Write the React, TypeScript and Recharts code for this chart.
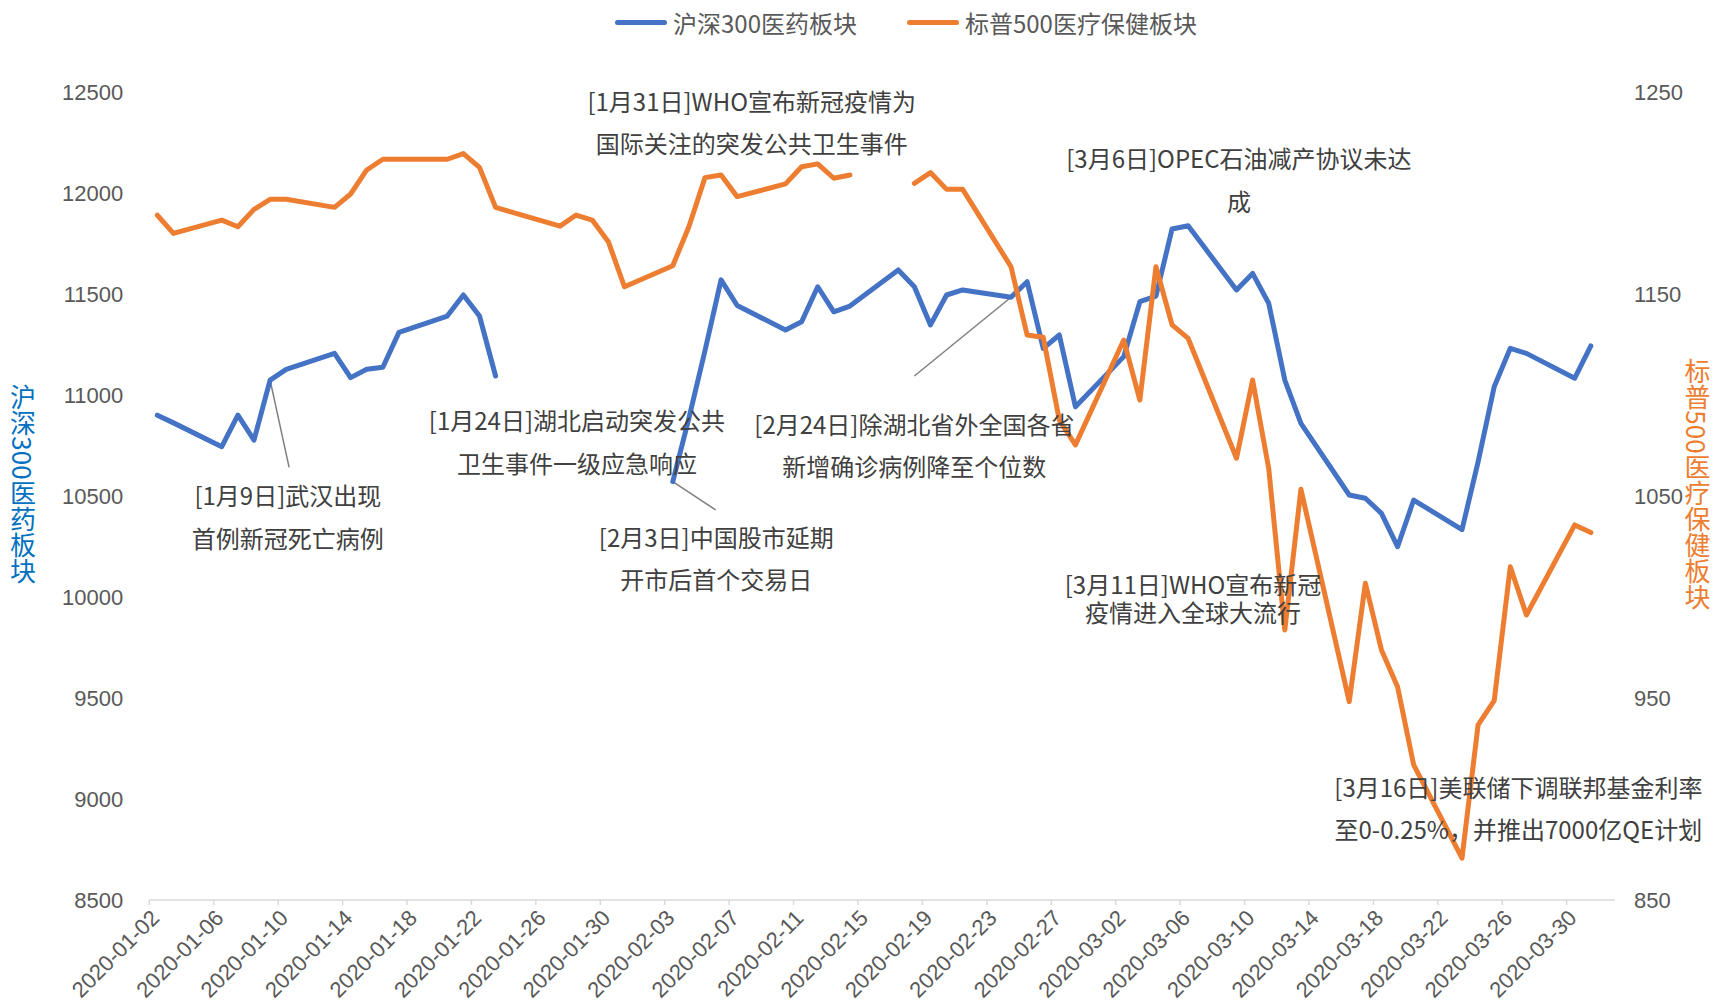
import React from 'react';
import {
  LineChart, Line, XAxis, YAxis, Legend, ReferenceDot, ReferenceLine,
} from 'recharts';

// ---- data ----
const TRADE_DATES = [
  '01-02','01-03','01-06','01-07','01-08','01-09','01-10','01-13','01-14','01-15','01-16','01-17',
  '01-20','01-21','01-22','01-23','01-24','01-27','01-28','01-29','01-30','01-31',
  '02-03','02-04','02-05','02-06','02-07','02-10','02-11','02-12','02-13','02-14',
  '02-17','02-18','02-19','02-20','02-21','02-24','02-25','02-26','02-27','02-28',
  '03-02','03-03','03-04','03-05','03-06','03-09','03-10','03-11','03-12','03-13',
  '03-16','03-17','03-18','03-19','03-20','03-23','03-24','03-25','03-26','03-27','03-30','03-31',
];

const HS300_PHARMA: (number | null)[] = [
  10900, 10862, 10744, 10900, 10777, 11074, 11127, 11206, 11086, 11127, 11137, 11310,
  11391, 11495, 11391, 11094, null, null, null, null, null, null,
  10571, 10884, 11219, 11570, 11443, 11322, 11363, 11536, 11412, 11440,
  11619, 11536, 11347, 11495, 11520, 11484, 11561, 11231, 11297, 10942,
  11190, 11462, 11490, 11822, 11838, 11520, 11602, 11454, 11074, 10860,
  10505, 10489, 10414, 10249, 10480, 10333, 10669, 11041, 11231, 11206, 11083, 11243,
];

const SP500_HEALTH: (number | null)[] = [
  1189.0, 1180.0, 1186.6, 1183.3, 1191.9, 1196.9, 1196.9, 1192.9, 1199.5, 1211.4, 1216.7, 1216.7,
  1216.7, 1219.5, 1212.7, 1192.9, 1190.5, 1183.6, 1189.1, 1186.6, 1175.9, 1153.6,
  1164.0, 1183.3, 1207.6, 1208.9, 1198.2, 1204.5, 1213.0, 1214.4, 1207.3, 1208.9,
  null, 1204.8, 1210.1, 1201.8, 1201.8, 1163.5, 1129.7, 1128.6, 1087.6, 1075.3,
  1127.2, 1097.5, 1163.5, 1134.7, 1128.0, 1068.7, 1107.4, 1063.7, 983.7, 1053.3,
  948.2, 1006.8, 973.8, 955.6, 916.9, 870.7, 936.7, 948.7, 1015.0, 991.1, 1035.7, 1031.9,
];

const X_TICK_LABELS = [
  '2020-01-02','2020-01-06','2020-01-10','2020-01-14','2020-01-18','2020-01-22','2020-01-26','2020-01-30',
  '2020-02-03','2020-02-07','2020-02-11','2020-02-15','2020-02-19','2020-02-23','2020-02-27',
  '2020-03-02','2020-03-06','2020-03-10','2020-03-14','2020-03-18','2020-03-22','2020-03-26','2020-03-30',
];
const AXIS_START = '2020-01-02';
const AXIS_END = '2020-04-02';

const LEFT_TICKS = [8500, 9000, 9500, 10000, 10500, 11000, 11500, 12000, 12500];
const RIGHT_TICKS = [850, 950, 1050, 1150, 1250];

const SERIES_HS = '沪深300医药板块';
const SERIES_SP = '标普500医疗保健板块';

// annotation texts, anchored in data space (day index, left-axis value)
const NOTES = [
  { lines: ['[1月9日]武汉出现', '首例新冠死亡病例'], day: 8.6, val: 10404, lh: 43 },
  { lines: ['[1月24日]湖北启动突发公共', '卫生事件一级应急响应'], day: 26.55, val: 10777, lh: 43 },
  { lines: ['[1月31日]WHO宣布新冠疫情为', '国际关注的突发公共卫生事件'], day: 37.4, val: 12357, lh: 42 },
  { lines: ['[2月3日]中国股市延期', '开市后首个交易日'], day: 35.2, val: 10196, lh: 42 },
  { lines: ['[2月24日]除湖北省外全国各省', '新增确诊病例降至个位数'], day: 47.5, val: 10758, lh: 42 },
  { lines: ['[3月6日]OPEC石油减产协议未达', '成'], day: 67.65, val: 12073, lh: 43 },
  { lines: ['[3月11日]WHO宣布新冠', '疫情进入全球大流行'], day: 64.8, val: 10000, lh: 28 },
  { lines: ['[3月16日]美联储下调联邦基金利率', '至0-0.25%，并推出7000亿QE计划'], day: 85.0, val: 8958, lh: 42 },
];

const LEADERS = [
  { from: { day: 7.5, val: 11074 }, to: { day: 8.68, val: 10642 } },
  { from: { day: 32.5, val: 10571 }, to: { day: 35.16, val: 10431 } },
  { from: { day: 53.5, val: 11484 }, to: { day: 47.5, val: 11094 } },
];

// ---- helpers ----
const dayIndex = (iso: string) => {
  const [y, m, d] = iso.split('-').map(Number);
  return (Date.UTC(y, m - 1, d) - Date.UTC(2020, 0, 2)) / 86400000;
};
const AXIS_MIN = dayIndex(AXIS_START);
const AXIS_MAX = dayIndex(AXIS_END);
const TICK_POS = X_TICK_LABELS.map(dayIndex);
const labelFor = (v: number) => X_TICK_LABELS[TICK_POS.indexOf(v)] ?? '';

const ROWS = TRADE_DATES.map((d, i) => ({
  x: dayIndex('2020-' + d) + 0.5,
  hs: HS300_PHARMA[i],
  sp: SP500_HEALTH[i],
}));

const BLUE = '#4472C4';
const ORANGE = '#ED7D31';
const GREY_TEXT = '#595959';
const NOTE_TEXT = '#404040';
const FONT = '"Liberation Sans", "Noto Sans CJK SC", sans-serif';
const CJK = '"Noto Sans CJK SC", "Liberation Sans", sans-serif';

const XTick = (props: any) => {
  const { x, y, payload } = props;
  const ax = x + 6;
  const ay = y + 7;
  return (
    <text x={ax} y={ay} textAnchor="end" dominantBaseline="central"
      transform={`rotate(-45 ${ax} ${ay})`} fontSize={22} fill={GREY_TEXT} fontFamily={FONT}>
      {labelFor(payload.value)}
    </text>
  );
};

const VTitle = (props: any) => {
  const { viewBox, text, color, dx } = props;
  const cx = viewBox.x + dx;
  const cy = viewBox.y + viewBox.height / 2 - 12;
  return (
    <text x={cx} y={cy} textAnchor="middle" fill={color} fontSize={26} fontFamily={CJK}
      style={{ writingMode: 'vertical-rl' as any }}>
      {text}
    </text>
  );
};

const NoteShape = (note: typeof NOTES[number]) => (p: any) => {
  const { cx, cy } = p;
  const n = note.lines.length;
  return (
    <text textAnchor="middle" dominantBaseline="central" fontSize={24} fill={NOTE_TEXT} fontFamily={CJK}>
      {note.lines.map((l, i) => (
        <tspan key={i} x={cx} y={cy + (i - (n - 1) / 2) * note.lh} dominantBaseline="central">{l}</tspan>
      ))}
    </text>
  );
};

const LegendContent = () => (
  <div style={{ width: 1714, height: 92, position: 'relative', fontFamily: CJK }}>
    <div style={{ position: 'absolute', left: 615, top: 0, height: 44, display: 'flex', alignItems: 'center' }}>
      <span style={{ display: 'inline-block', width: 52, height: 5, borderRadius: 3, background: BLUE }} />
      <span style={{ marginLeft: 6, fontSize: 24, color: GREY_TEXT, whiteSpace: 'nowrap' }}>{SERIES_HS}</span>
      <span style={{ display: 'inline-block', width: 52, height: 5, borderRadius: 3, background: ORANGE, marginLeft: 50 }} />
      <span style={{ marginLeft: 6, fontSize: 24, color: GREY_TEXT, whiteSpace: 'nowrap' }}>{SERIES_SP}</span>
    </div>
  </div>
);

export default function App() {
  return (
    <div style={{ width: 1714, height: 1001, background: '#fff', fontFamily: FONT }}>
      <style>{'body{margin:0}'}</style>
      <LineChart width={1714} height={1001} data={ROWS} margin={{ top: 0, right: 0, bottom: 0, left: 0 }}>
        <Legend verticalAlign="top" align="left" content={<LegendContent />} />
        <XAxis
          type="number" dataKey="x" domain={[AXIS_MIN, AXIS_MAX]} ticks={TICK_POS} interval={0}
          height={101} axisLine={{ stroke: '#D9D9D9', strokeWidth: 1.5 }}
          tickLine={{ stroke: '#D9D9D9', strokeWidth: 1.5 }} tickSize={5} tick={<XTick />}
          allowDataOverflow
        />
        <YAxis
          yAxisId="left" orientation="left" domain={[8500, 12500]} ticks={LEFT_TICKS} interval={0}
          width={149.3} axisLine={false} tickLine={false} tickSize={0} tickMargin={26}
          tick={{ fontSize: 22, fill: GREY_TEXT, fontFamily: FONT }}
          label={{ content: (p: any) => <VTitle {...p} text={SERIES_HS} color="#0070C0" dx={23} /> }}
        />
        <YAxis
          yAxisId="right" orientation="right" domain={[850, 1250]} ticks={RIGHT_TICKS} interval={0}
          width={99} axisLine={false} tickLine={false} tickSize={0} tickMargin={19}
          tick={{ fontSize: 22, fill: GREY_TEXT, fontFamily: FONT }}
          label={{ content: (p: any) => <VTitle {...p} text={SERIES_SP} color={ORANGE} dx={82.6} /> }}
        />
        {LEADERS.map((l, i) => (
          <ReferenceLine key={'ld' + i} yAxisId="left" ifOverflow="visible"
            segment={[{ x: l.from.day, y: l.from.val }, { x: l.to.day, y: l.to.val }]}
            stroke="#7F7F7F" strokeWidth={1.5} />
        ))}
        <Line yAxisId="left" type="linear" dataKey="hs" name={SERIES_HS} stroke={BLUE} strokeWidth={5}
          dot={false} activeDot={false} connectNulls={false} isAnimationActive={false}
          strokeLinejoin="round" strokeLinecap="round" />
        <Line yAxisId="right" type="linear" dataKey="sp" name={SERIES_SP} stroke={ORANGE} strokeWidth={5}
          dot={false} activeDot={false} connectNulls={false} isAnimationActive={false}
          strokeLinejoin="round" strokeLinecap="round" />
        {NOTES.map((n, i) => (
          <ReferenceDot key={'nt' + i} yAxisId="left" x={n.day} y={n.val} r={0} ifOverflow="visible"
            shape={NoteShape(n)} />
        ))}
      </LineChart>
    </div>
  );
}
